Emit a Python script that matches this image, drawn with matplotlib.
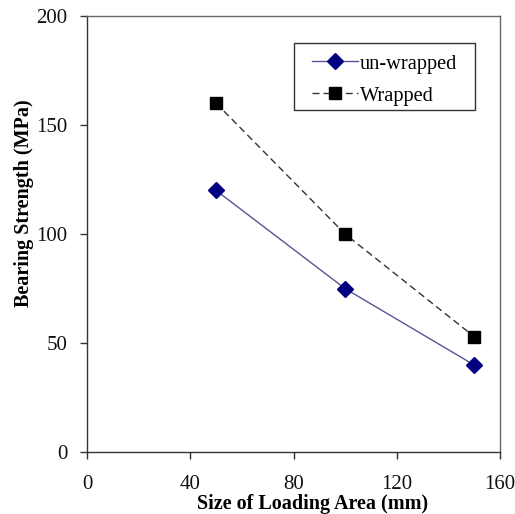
import matplotlib.pyplot as plt
from matplotlib.patches import Rectangle

# Data
loading_area = [50, 100, 150]
unwrapped = [120, 75, 40]
wrapped = [160, 100, 53]

x_ticks = [0, 40, 80, 120, 160]
y_ticks = [0, 50, 100, 150, 200]

plt.rcParams['font.family'] = ['Liberation Serif', 'DejaVu Serif']

fig = plt.figure(figsize=(5.15, 5.14), dpi=100)
ax = fig.add_axes([0.169, 0.120, 0.802, 0.849])

ax.plot(loading_area, unwrapped, color='#55559a', linewidth=1.0,
        marker='D', markersize=8.5, markerfacecolor='#000080',
        markeredgecolor='#000080', label='un-wrapped')
ax.plot(loading_area, wrapped, color='#333333', linewidth=1.0, linestyle=(0, (5, 3)),
        marker='s', markersize=9, markerfacecolor='black',
        markeredgecolor='black', label='Wrapped')

ax.set_xlim(0, 160)
ax.set_ylim(0, 200)
ax.set_xticks(x_ticks)
ax.set_yticks(y_ticks)
ax.tick_params(direction='out', length=5, width=1, labelsize=15, colors='#333333',
               labelcolor='#111111')
ax.tick_params(axis='x', pad=11)
ax.tick_params(axis='y', pad=9)

for side in ['left', 'bottom']:
    ax.spines[side].set_color('#333333')
    ax.spines[side].set_linewidth(1.0)
for side in ['top', 'right']:
    ax.spines[side].set_color('#666666')
    ax.spines[side].set_linewidth(1.0)

ax.set_xlabel('Size of Loading Area (mm)', fontsize=14.5, fontweight='bold', labelpad=0)
ax.set_ylabel('Bearing Strength (MPa)', fontsize=14.5, fontweight='bold', labelpad=2)
ax.xaxis.label.set_x(0.547)
ax.yaxis.label.set_y(0.57)

# legend without frame, frame drawn around it with wider side padding
leg = ax.legend(loc='upper left', bbox_to_anchor=(0.545, 0.912), fontsize=14.7,
                frameon=False, handlelength=2.25, borderpad=0, borderaxespad=0,
                labelspacing=0.62, handletextpad=0.1)
fig.canvas.draw()
bb = leg.get_window_extent()
pad_x, pad_top, pad_bottom = 18, 11, 4
x0, y0 = fig.transFigure.inverted().transform((bb.x0 - pad_x, bb.y0 - pad_bottom))
x1, y1 = fig.transFigure.inverted().transform((bb.x1 + pad_x, bb.y1 + pad_top))
fig.patches.append(Rectangle((x0, y0), x1 - x0, y1 - y0, transform=fig.transFigure,
                             fill=False, edgecolor='#333333', linewidth=1.0))

fig.savefig('out.png', dpi=100)
